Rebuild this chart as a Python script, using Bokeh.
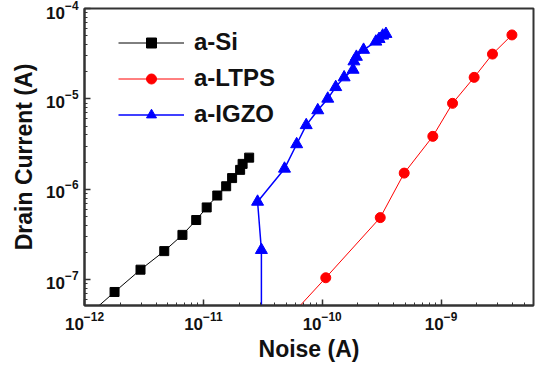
from bokeh.plotting import figure
from bokeh.models import Range1d, Legend, LegendItem
from bokeh.embed import file_html
from bokeh.resources import INLINE

# a-Si
si_x = [1.09e-12, 1.79e-12, 2.96e-12, 4.69e-12, 6.67e-12, 8.71e-12, 1.067e-11, 1.31e-11,
        1.556e-11, 1.746e-11, 2.04e-11, 2.14e-11, 2.43e-11]
si_y = [4.12e-8, 7.31e-8, 1.29e-7, 2.07e-7, 3.13e-7, 4.57e-7, 6.30e-7, 8.53e-7,
        1.08e-6, 1.33e-6, 1.64e-6, 1.91e-6, 2.24e-6]

# a-LTPS
ltps_x = [4.05e-11, 1.072e-10, 3.08e-10, 4.90e-10, 8.53e-10, 1.25e-9, 1.90e-9, 2.71e-9, 3.95e-9]
ltps_y = [2.62e-8, 1.05e-7, 4.86e-7, 1.51e-6, 3.85e-6, 8.93e-6, 1.73e-5, 3.13e-5, 5.10e-5]

# a-IGZO
igzo_x = [3.08e-11, 3.08e-11, 2.86e-11, 4.82e-11, 6.10e-11, 7.34e-11, 9.18e-11, 1.114e-10,
          1.30e-10, 1.53e-10, 1.82e-10, 1.85e-10, 1.94e-10, 2.23e-10, 2.83e-10, 3.01e-10,
          3.23e-10, 3.44e-10]
igzo_y = [1.0e-8, 2.13e-7, 7.28e-7, 1.69e-6, 3.15e-6, 5.12e-6, 7.48e-6, 1.005e-5,
          1.35e-5, 1.73e-5, 2.10e-5, 2.60e-5, 2.92e-5, 3.49e-5, 4.30e-5, 4.60e-5,
          5.01e-5, 5.23e-5]

x_range = (1e-12, 6.0e-9)
y_range = (5.18e-8, 1e-4)

FONT = "Liberation Sans"

p = figure(width=535, height=368, x_axis_type="log", y_axis_type="log",
           x_range=Range1d(*x_range), y_range=Range1d(*y_range),
           output_backend="svg", toolbar_location=None,
           min_border_left=84, min_border_right=2, min_border_top=8, min_border_bottom=63)

p.grid.visible = False
p.outline_line_color = "#333333"
p.outline_line_width = 2
p.background_fill_color = "white"
p.border_fill_color = "white"

for ax in (p.xaxis[0], p.yaxis[0]):
    ax.axis_line_color = "#333333"
    ax.axis_line_width = 2
    ax.major_tick_line_color = "#333333"
    ax.minor_tick_line_color = "#333333"
    ax.major_tick_line_width = 1.5
    ax.minor_tick_line_width = 1
    ax.major_tick_in = 6
    ax.major_tick_out = 0
    ax.minor_tick_in = 3
    ax.minor_tick_out = 0
    ax.major_label_text_font = FONT
    ax.major_label_text_font_style = "bold"
    ax.major_label_text_font_size = "17px"
    ax.major_label_text_color = "#111111"
    ax.axis_label_text_font = FONT
    ax.axis_label_text_font_style = "bold"
    ax.axis_label_text_font_size = "23px"
    ax.axis_label_text_color = "#111111"

p.xaxis.axis_label = "Noise (A)"
p.yaxis.axis_label = "Drain Current (A)"
p.xaxis.major_label_standoff = 6
p.yaxis.major_label_standoff = 6
p.xaxis.axis_label_standoff = 3
p.yaxis.axis_label_standoff = 6

l1 = p.line(si_x, si_y, line_color="black", line_width=1)
m1 = p.scatter(si_x, si_y, marker="square", size=9, fill_color="black", line_color="black")
l2 = p.line(ltps_x, ltps_y, line_color="red", line_width=1)
m2 = p.scatter(ltps_x, ltps_y, marker="circle", size=10, fill_color="red", line_color="red")
l3 = p.line(igzo_x, igzo_y, line_color="blue", line_width=1.5)
m3 = p.scatter(igzo_x, igzo_y, marker="triangle", size=12, fill_color="blue", line_color="blue")

legend = Legend(items=[
    LegendItem(label="a-Si", renderers=[l1, m1]),
    LegendItem(label="a-LTPS", renderers=[l2, m2]),
    LegendItem(label="a-IGZO", renderers=[l3, m3]),
], location=(34, 177))
legend.border_line_color = None
legend.background_fill_alpha = 0
legend.label_text_font = FONT
legend.label_text_font_style = "bold"
legend.label_text_font_size = "24px"
legend.label_text_color = "#111111"
legend.glyph_width = 66
legend.glyph_height = 25
legend.label_height = 25
legend.spacing = 8
legend.padding = 0
legend.margin = 0
legend.label_standoff = 10
p.add_layout(legend)

open("out.html", "w").write(file_html(p, INLINE))
